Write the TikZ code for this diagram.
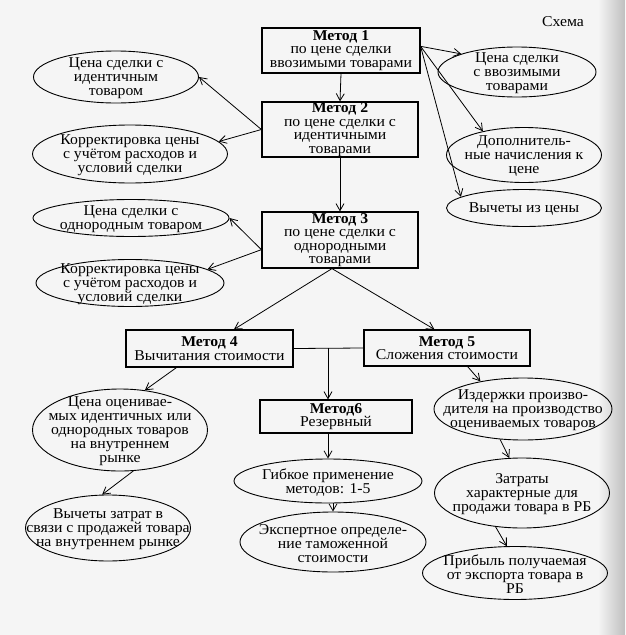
\documentclass[tikz,border=0pt]{standalone}
\usepackage{fontspec}
\setmainfont{Liberation Serif}[FakeStretch=1.05]
\usetikzlibrary{shapes.geometric,arrows.meta,calc}
\begin{document}
\begin{tikzpicture}[x=1pt,y=-1pt,
  every node/.style={font=\fontsize{15}{14}\selectfont},
  mbox/.style={draw,line width=1.2pt,rectangle,inner sep=0pt,align=center,font=\fontsize{15}{13.5}\selectfont},
  ell/.style={draw,line width=0.9pt,ellipse,inner sep=0pt},
  lbl/.style={align=center,inner sep=0pt,yshift=-1.5pt,font=\fontsize{15}{14}\selectfont},
  arr/.style={line width=0.8pt,-{Straight Barb[length=7pt,width=8pt]}},
  ln/.style={line width=0.8pt}]
\fill[black!4] (0,0) rectangle (625,635);
\shade[left color=black!4,right color=black!25] (598,0) rectangle (625,635);
\useasboundingbox (0,0) rectangle (625,635);

\node (title) at (563,22) {Схема};

% method boxes
\node[mbox,minimum width=158pt,minimum height=45pt] (m1) at (341,50.5)
  {\textbf{Метод 1}\\по цене сделки\\ввозимыми товарами};
\node[mbox,minimum width=156pt,minimum height=55pt] (m2) at (340,129.5)
  {\textbf{Метод 2}\\по цене сделки с\\идентичными\\товарами};
\node[mbox,minimum width=156pt,minimum height=56pt] (m3) at (340,240)
  {\textbf{Метод 3}\\по цене сделки с\\однородными\\товарами};
\node[mbox,minimum width=167pt,minimum height=37pt] (m4) at (209.5,348.5)
  {\textbf{Метод 4}\\Вычитания стоимости};
\node[mbox,minimum width=166pt,minimum height=36pt] (m5) at (447,348)
  {\textbf{Метод 5}\\Сложения стоимости};
\node[mbox,minimum width=152pt,minimum height=33pt] (m6) at (336,416.5)
  {\textbf{Метод6}\\Резервный};

% left ellipses
\node[ell,minimum width=165pt,minimum height=52pt,
  label={[lbl]center:{Цена сделки с\\идентичным\\товаром}}] (e1) at (116,77) {};
\node[ell,minimum width=195pt,minimum height=58pt,
  label={[lbl]center:{Корректировка цены\\с учётом расходов и\\условий сделки}}] (e2) at (130,154) {};
\node[ell,minimum width=196pt,minimum height=37pt,
  label={[lbl]center:{Цена сделки с\\однородным товаром}}] (e3) at (131,218) {};
\node[ell,minimum width=188pt,minimum height=47pt,
  label={[lbl]center:{Корректировка цены\\с учётом расходов и\\условий сделки}}] (e4) at (130,283) {};

% right ellipses
\node[ell,minimum width=158pt,minimum height=50pt,
  label={[lbl]center:{Цена сделки\\с ввозимыми\\товарами}}] (r1) at (517,72) {};
\node[ell,minimum width=155pt,minimum height=55pt,
  label={[lbl]center:{Дополнитель-\\ные начисления к\\цене}}] (r2) at (524,155) {};
\node[ell,minimum width=155pt,minimum height=37pt,
  label={[lbl]center:{Вычеты из цены}}] (r3) at (524,208) {};

% lower ellipses
\node[ell,minimum width=175pt,minimum height=82pt,
  label={[lbl]center:{Цена оценивае-\\мых идентичных или\\однородных товаров\\на внутреннем\\рынке}}] (l5) at (120,430) {};
\node[ell,minimum width=165pt,minimum height=66pt,
  label={[lbl]center:{Вычеты затрат в\\связи с продажей товара\\на внутреннем рынке}}] (l6) at (108,528) {};
\node[ell,minimum width=188pt,minimum height=44pt,
  label={[lbl]center:{Гибкое применение\\методов: 1-5}}] (g1) at (328,481) {};
\node[ell,minimum width=186pt,minimum height=60pt,
  label={[lbl]center:{Экспертное определе-\\ние таможенной\\стоимости}}] (g2) at (333,542) {};
\node[ell,minimum width=178pt,minimum height=62pt,
  label={[lbl]center:{Издержки произво-\\дителя на производство\\оцениваемых товаров}}] (s1) at (523,409) {};
\node[ell,minimum width=175pt,minimum height=70pt,
  label={[lbl]center:{Затраты\\характерные для\\продажи товара в РБ}}] (s2) at (522,493) {};
\node[ell,minimum width=185pt,minimum height=53pt,
  label={[lbl]center:{Прибыль получаемая\\от экспорта товара в\\РБ}}] (s3) at (515,573) {};

% connectors
\draw[arr] (m1.south) -- (m2.north);
\draw[arr] (m2.south) -- (m3.north);
\draw[arr] (m1.3) -- (r1.162);
\draw[arr] (m1.3) -- (r2.150);
\draw[arr] (m1.3) -- (r3.170);
\draw[arr] (m2.west) -- (e1.east);
\draw[arr] (m2.west) -- (e2.8);
\draw[arr] (m3.187) -- (e3.east);
\draw[arr] (m3.187) -- (e4.10);
\coordinate (m3b) at ([xshift=-8pt]m3.south);
\draw[arr] (m3b) -- (m4.38);
\draw[arr] (m3b) -- (m5.124);
\draw[ln] (m4.east) -- (m5.west);
\coordinate (j) at (328,348);
\draw[arr] (j) -- (j |- m6.north);
\draw[arr] (g1.north |- m6.south) -- (g1.north);
\draw[arr] (g2.north |- g1.south) -- (g2.north);
\draw[arr] (m4.210) -- (l5.58);
\draw[arr] (l5.288) -- (l6.100);
\draw[arr] (m5.-42) -- (s1.147);
\draw[arr] (s1.233) -- (s2.110);
\draw[arr] (s2.232) -- (s3.107);
\end{tikzpicture}
\end{document}
